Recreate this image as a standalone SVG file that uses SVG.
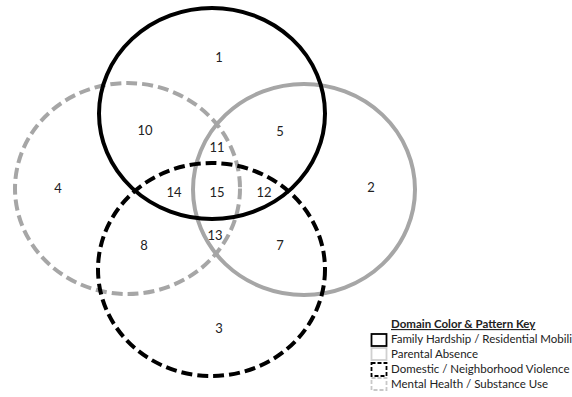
<svg xmlns="http://www.w3.org/2000/svg" width="572" height="397" viewBox="0 0 572 397">
<style>
.c{fill:none;stroke-width:4}
.bk{stroke:#000}
.gr{stroke:#a6a6a6}
.ds{stroke-dasharray:11 5}
.n{font-family:Lato,"Open Sans","Liberation Sans",sans-serif;font-size:13px;fill:#222;text-anchor:middle}
.lg{font-family:Lato,"Open Sans","Liberation Sans",sans-serif;font-size:11.5px;fill:#222}
.lt{font-weight:bold;text-decoration:underline}
.kb{fill:none;stroke-width:1.8}
</style>
<rect width="572" height="397" fill="#fff"/>
<g id="connectors"></g>
<g id="parental-absence"><ellipse class="c gr" cx="304" cy="189.5" rx="111" ry="105.5"/></g>
<g id="mental-health"><ellipse class="c gr ds" cx="127.5" cy="188.5" rx="112.5" ry="105.5"/></g>
<g id="family-hardship"><ellipse class="c bk" cx="212" cy="113.5" rx="113" ry="105.5"/></g>
<g id="domestic-violence"><ellipse class="c bk ds" cx="211.5" cy="269.5" rx="113.5" ry="106.5"/></g>
<g id="labels">
<text class="n" x="219" y="62">1</text>
<text class="n" x="371" y="192">2</text>
<text class="n" x="219" y="333">3</text>
<text class="n" x="58" y="193">4</text>
<text class="n" x="280" y="136">5</text>
<text class="n" x="280" y="250">7</text>
<text class="n" x="144" y="250">8</text>
<text class="n" x="145" y="135">10</text>
<text class="n" x="217" y="152">11</text>
<text class="n" x="264" y="197">12</text>
<text class="n" x="215" y="240">13</text>
<text class="n" x="174" y="197">14</text>
<text class="n" x="217" y="197">15</text>
</g>
<g id="legend">
<text class="lg lt" x="391" y="328">Domain Color &amp; Pattern Key</text>
<rect class="kb" x="371.5" y="334" width="15" height="12" stroke="#000"/>
<rect class="kb" x="371.5" y="348" width="15" height="12" stroke="#d0d0d0" stroke-width="1"/>
<rect class="kb" x="371.5" y="363" width="15" height="13" stroke="#000" stroke-dasharray="4 2"/>
<rect class="kb" x="371.5" y="378" width="15" height="12" stroke="#c8c8c8" stroke-width="1.2" stroke-dasharray="4 2"/>
<text class="lg" x="391" y="343">Family Hardship / Residential Mobility</text>
<text class="lg" x="391" y="357.5">Parental Absence</text>
<text class="lg" x="391" y="373">Domestic / Neighborhood Violence</text>
<text class="lg" x="391" y="387.5">Mental Health / Substance Use</text>
</g>
</svg>
